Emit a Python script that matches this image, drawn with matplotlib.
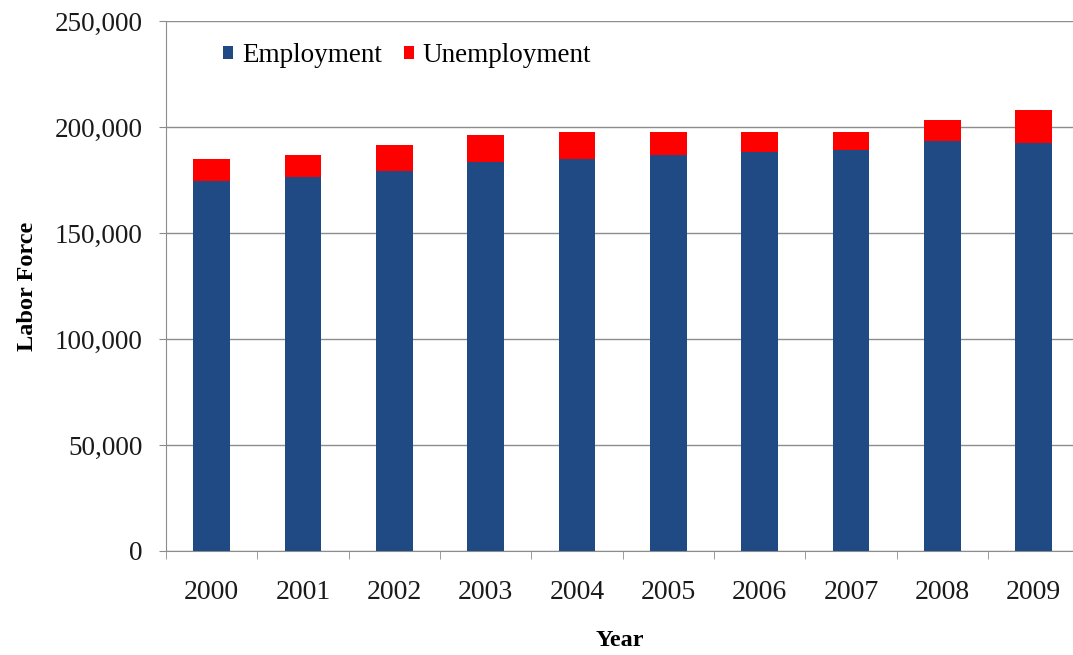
import numpy as np
import matplotlib.pyplot as plt
from matplotlib.ticker import FuncFormatter

years = ['2000', '2001', '2002', '2003', '2004', '2005', '2006', '2007', '2008', '2009']
employment = [174500, 176400, 179400, 183600, 184900, 186600, 188100, 189300, 193200, 192600]
labor_force = [184800, 186800, 191700, 196400, 197600, 197600, 197600, 197600, 203200, 207900]
unemployment = [lf - e for lf, e in zip(labor_force, employment)]

plt.rcParams['font.family'] = ['Liberation Serif', 'DejaVu Serif']

fig = plt.figure(figsize=(10.73, 6.55), dpi=100)
ax = fig.add_axes([0.1547, 0.1588, 0.8453, 0.8092])

x = np.arange(len(years))
ax.bar(x, employment, width=0.4, color='#1f4a84', label='Employment', zorder=3)
ax.bar(x, unemployment, width=0.4, bottom=employment, color='#ff0000', label='Unemployment', zorder=3)

ax.set_ylim(0, 250000)
ax.set_xlim(-0.5, 9.43)
ax.set_yticks(np.arange(0, 250001, 50000))
ax.yaxis.set_major_formatter(FuncFormatter(lambda v, p: f'{int(v):,}'))
ax.yaxis.grid(True, color='#8c8c8c', linewidth=1, zorder=0)

ax.set_xticks(x)
ax.set_xticklabels(years)
ax.set_xticks(np.arange(-0.5, 9.5, 1), minor=True)
ax.tick_params(axis='x', which='major', length=0, pad=21, labelsize=20, labelcolor='#1a1a1a')
ax.tick_params(axis='x', which='minor', length=6, color='#8c8c8c', direction='out')
ax.tick_params(axis='y', length=5, color='#8c8c8c', labelsize=19.5, pad=12, labelcolor='#1a1a1a')

for side in ['top', 'right']:
    ax.spines[side].set_visible(False)
for side in ['left', 'bottom']:
    ax.spines[side].set_color('#8c8c8c')

ax.set_ylabel('Labor Force', fontsize=17.5, fontweight='bold', labelpad=12)
ax.set_xlabel('Year', fontsize=17.5, fontweight='bold', labelpad=18)

ax.legend(loc='upper left', bbox_to_anchor=(0.063, 0.958), ncol=2, frameon=False,
          fontsize=19.5, handlelength=0.37, handleheight=0.37, handletextpad=0.33,
          columnspacing=0.8, borderpad=0, borderaxespad=0)

fig.savefig('out.png', dpi=100)
